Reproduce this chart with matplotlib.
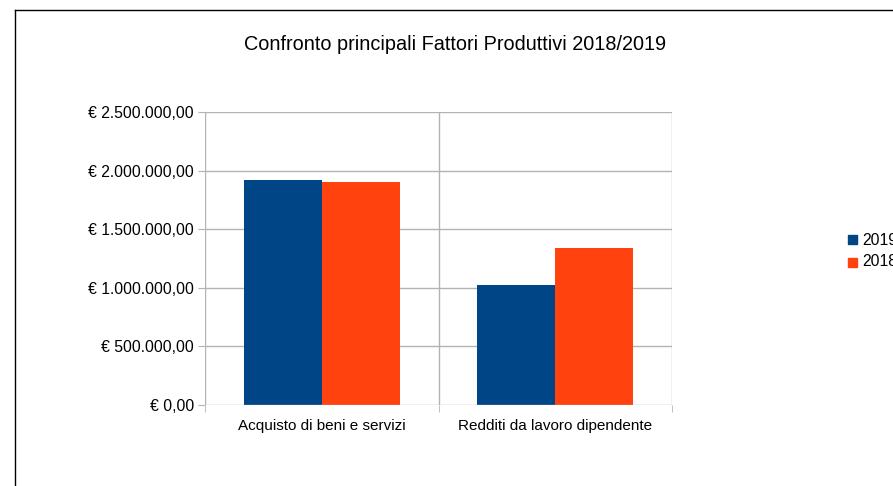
import matplotlib.pyplot as plt
import numpy as np
from matplotlib.ticker import FuncFormatter, MultipleLocator
from matplotlib.lines import Line2D

plt.rcParams['font.family'] = ['Liberation Sans', 'DejaVu Sans']

# data
categories = ['Acquisto di beni e servizi', 'Redditi da lavoro dipendente']
series = ['2019', '2018']
values_2019 = [1920000, 1026000]
values_2018 = [1903000, 1342000]
colors = ['#004586', '#ff420e']

def euro(v, pos):
    s = f'{v:,.2f}'  # 2,500,000.00
    s = s.replace(',', 'X').replace('.', ',').replace('X', '.')
    return '€ ' + s

fig = plt.figure(figsize=(8.93, 4.86), dpi=100)
ax = fig.add_axes([205/893, 1 - 405/486, (672 - 205)/893, (405 - 112)/486])

x = np.arange(len(categories))
w = 0.334
ax.bar(x - w/2, values_2019, w, color=colors[0], zorder=3)
ax.bar(x + w/2, values_2018, w, color=colors[1], zorder=3)

ax.set_xlim(-0.5, len(categories) - 0.5)
ax.set_ylim(0, 2500000)
ax.yaxis.set_major_locator(MultipleLocator(500000))
ax.yaxis.set_major_formatter(FuncFormatter(euro))

# gridlines in LibreOffice style
for yv in np.arange(500000, 2500001, 500000):
    ax.axhline(yv, color='#b3b3b3', lw=1, zorder=1)
for xv in np.arange(-0.5, len(categories), 1.0):
    ax.axvline(xv, color='#b3b3b3', lw=1, zorder=1)
ax.axhline(0, color='#b3b3b3', lw=1, zorder=4)

for s in ax.spines.values():
    s.set_visible(False)

ax.set_xticks(x)
ax.set_xticklabels(categories, fontsize=11)
ax.tick_params(axis='x', length=0, pad=10)
ax.set_xticks(np.arange(-0.5, len(categories), 1.0), minor=True)
ax.tick_params(axis='x', which='minor', length=5, color='#b3b3b3')
ax.tick_params(axis='y', length=5, color='#b3b3b3', labelsize=11.3, pad=3)

fig.text(455/893, 1 - 45/486, 'Confronto principali Fattori Produttivi 2018/2019',
         ha='center', va='center', fontsize=14.3)

# legend (cut at the right edge as in the original)
for i, (lab, c) in enumerate(zip(series, colors)):
    yy = 1 - (240 + 22*i)/486
    fig.patches.append(plt.Rectangle((848/893, yy - 4.5/486), 9/893, 9/486,
                                     transform=fig.transFigure, color=c))
    fig.text(862/893, yy, lab, ha='left', va='center', fontsize=11.3)

# outer frame lines
fig.add_artist(Line2D([15/893, 1], [1 - 10/486, 1 - 10/486], color='black', lw=1,
                      transform=fig.transFigure))
fig.add_artist(Line2D([15/893, 15/893], [0, 1 - 10/486], color='black', lw=1,
                      transform=fig.transFigure))

fig.savefig('out.png', dpi=100)
